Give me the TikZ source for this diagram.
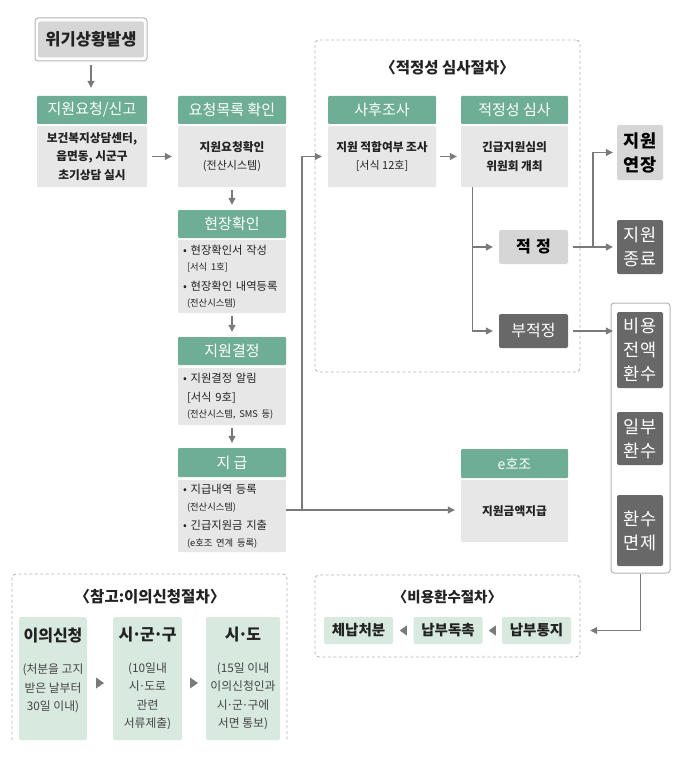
\documentclass[tikz,border=0pt]{standalone}
\usepackage{fontspec}
\setmainfont{Noto Sans CJK KR}
\usetikzlibrary{arrows.meta,calc}
\definecolor{hdg}{HTML}{6FAE96}
\definecolor{bdg}{HTML}{E7E7E7}
\definecolor{dkg}{HTML}{686868}
\definecolor{ltg}{HTML}{D6D6D6}
\definecolor{mint}{HTML}{D8E9E0}
\definecolor{frg}{HTML}{B4B4B4}
\definecolor{lng}{HTML}{7A7A7A}
\definecolor{tinta}{HTML}{222222}
\definecolor{gris}{HTML}{444444}
\newcommand\fs[2]{\fontsize{#1}{#2}\selectfont}
\newcommand\md{\kern-.09em·\kern-.09em}

\begin{document}
\begin{tikzpicture}[x=1pt,y=-1pt,font=\fs{11}{18},text=tinta,
 hd/.style={fill=hdg,text=white,minimum width=108,minimum height=28,inner sep=0,rounded corners=1pt,font=\fs{15}{16}},
 bd/.style={fill=bdg,minimum width=108,inner sep=0,align=center,rounded corners=1pt,font=\fs{11.7}{18.5}\bfseries},
 lst/.style={bd,align=left,text width=98,font=\fs{11.3}{16.5}},
 dk/.style={fill=dkg,text=white,minimum width=46,inner sep=0,rounded corners=2pt,align=center,font=\fs{17.5}{24}},
 lt/.style={dk,fill=ltg,text=black,font=\fs{17.5}{24}\bfseries},
 gb/.style={fill=mint,inner sep=0,rounded corners=2pt,align=center},
 frm/.style={draw=frg,dash pattern=on 3pt off 2.5pt,line width=0.9pt,rounded corners=4pt},
 ln/.style={draw=lng,line width=1.1pt},
 arr/.style={ln,-{Triangle[length=7pt,width=7pt]}},
 ttl/.style={font=\fs{15.5}{16}\bfseries},
 tri/.style={fill=lng}]

\useasboundingbox (0,0) rectangle (691,757);

\node[draw=frg,rounded corners=3pt,line width=1pt,fill=white,minimum width=112,minimum height=43] (wkf) at (91,39.5) {};
\node[fill=ltg,rounded corners=2pt,minimum width=106,minimum height=36,font=\fs{16.5}{18}\bfseries] (wk) at (91,39.5) {위기상황발생};

\node[hd,minimum width=110] (hdA) at (92,110) {지원요청/신고};
\node[bd,minimum width=110,minimum height=61] (bdA) at (92,156.5) {보건복지상담센터,\\읍면동, 시군구\\초기상담 실시};

\node[hd] (hdB) at (232,110) {요청목록 확인};
\node[bd,minimum height=61] (bdB) at (232,156.5) {지원요청확인\\{\mdseries\fs{11}{18.5}(전산시스템)}};
\node[hd] (hd2) at (232,224) {현장확인};
\node[lst,minimum height=73] (bd2) at (232,276.5) {• 현장확인서 작성\\\hspace*{4pt}{\fs{9.3}{16}[서식 1호]}\\[3pt]• 현장확인 내역등록\\\hspace*{4pt}{\fs{9.3}{16}(전산시스템)}};
\node[hd] (hd3) at (232,351) {지원결정};
\node[lst,minimum height=57] (bd3) at (232,396.5) {• 지원결정 알림\\[2pt]\hspace*{4pt}[서식 9호]\\\hspace*{4pt}{\fs{9.3}{16}(전산시스템, SMS 등)}};
\node[hd,minimum height=29] (hd4) at (232,462.5) {지 급};
\node[lst,minimum height=72] (bd4) at (232,516) {• 지급내역 등록\\\hspace*{4pt}{\fs{9.3}{16}(전산시스템)}\\[3pt]• 긴급지원금 지출\\\hspace*{4pt}{\fs{9.3}{16}(e호조 연계 등록)}};

\node[frm,minimum width=265,minimum height=332] (fA) at (447.5,206) {};
\node[ttl] (tA) at (447.5,68) {〈적정성 심사절차〉};
\node[hd] (hdC) at (382,110) {사후조사};
\node[bd,minimum height=61] (bdC) at (382,156.5) {지원 적합여부 조사\\{\mdseries\fs{11}{18.5}\mbox{[서식 12호]}}};
\node[hd,minimum width=107] (hdD) at (514.5,110) {적정성 심사};
\node[bd,minimum width=107,minimum height=61] (bdD) at (514.5,156.5) {긴급지원심의\\위원회 개최};
\node[lt,minimum width=69,minimum height=34,font=\fs{16}{18}\bfseries] (jj) at (533.5,247) {적\,\,정};
\node[dk,minimum width=69,minimum height=34,font=\fs{16}{18}] (bj) at (533.5,331) {부적정};

\node[lt,minimum height=55] (jy) at (640,152.5) {지원\\연장};
\node[dk,minimum height=54] (jr) at (640,247) {지원\\종료};
\node[draw=frg,rounded corners=3pt,line width=1pt,minimum width=59,minimum height=270] (hw) at (640.5,438) {};
\node[dk,minimum height=76] (h1) at (640,350) {비용\\전액\\환수};
\node[dk,minimum height=53] (h2) at (640,438.5) {일부\\환수};
\node[dk,minimum height=71] (h3) at (640,530.5) {환수\\면제};

\node[hd,minimum width=107,minimum height=29,font=\fs{14}{16}] (hdE) at (514.5,463.5) {e호조};
\node[bd,minimum width=107,minimum height=62] (bdE) at (514.5,511) {지원금액지급};

\node[frm,minimum width=265,minimum height=82] (fB) at (447.5,616) {};
\node[ttl,font=\fs{14.5}{16}\bfseries] (tB) at (447.5,597) {〈비용환수절차〉};
\node[gb,minimum width=69,minimum height=27,font=\fs{14.5}{16}\bfseries] (nb1) at (358.5,630.5) {체납처분};
\node[gb,minimum width=69,minimum height=27,font=\fs{14.5}{16}\bfseries] (nb2) at (448,630.5) {납부독촉};
\node[gb,minimum width=69,minimum height=27,font=\fs{14.5}{16}\bfseries] (nb3) at (536.5,630.5) {납부통지};
\fill[tri] ($(nb1.east)!0.5!(nb2.west)+(3.5,-5)$) -- ++(-7,5) -- ++(7,5) -- cycle;
\fill[tri] ($(nb2.east)!0.5!(nb3.west)+(3.5,-5)$) -- ++(-7,5) -- ++(7,5) -- cycle;

\draw[frm] (12,740) -- (12,574) -- (287,574) -- (287,740);
\node[ttl] (tC) at (150,597) {〈참고:이의신청절차〉};
\node[gb,minimum width=68,minimum height=123,text=gris,font=\fs{11.8}{18.5}] (ys1) at (53,678.5) {{\color{tinta}\fs{16}{18.5}\bfseries 이의신청}\\[13.5pt](처분을 고지\\받은 날부터\\30일 이내)\\~};
\node[gb,minimum width=69,minimum height=123,text=gris,font=\fs{11.8}{18.5}] (ys2) at (147.5,678.5) {{\color{tinta}\fs{16}{18.5}\bfseries 시\md 군\md 구}\\[13.5pt](10일내\\시\md 도로\\관련\\서류제출)};
\node[gb,minimum width=74,minimum height=123,text=gris,font=\fs{11.8}{18.5}] (ys3) at (243,678.5) {{\color{tinta}\fs{16}{18.5}\bfseries 시\md 도}\\[13.5pt](15일 이내\\이의신청인과\\시\md 군\md 구에\\서면 통보)};
\fill[tri] ($(ys1.east)!0.5!(ys2.west)+(-4,-1)$) -- ++(8,5.5) -- ++(-8,5.5) -- cycle;
\fill[tri] ($(ys2.east)!0.5!(ys3.west)+(-4,-1)$) -- ++(8,5.5) -- ++(-8,5.5) -- cycle;

\draw[arr,shorten <=4,shorten >=8] (wkf.south) -- (wkf.south |- hdA.north);
\draw[arr,shorten <=5,shorten >=6] (bdA) -- (bdB);
\draw[arr,shorten <=3,shorten >=5] (bdB) -- (hd2);
\draw[arr,shorten <=3,shorten >=5] (bd2) -- (hd3);
\draw[arr,shorten <=3,shorten >=5] (bd3) -- (hd4);
\coordinate (jn) at (302,510);
\draw[arr,shorten >=6] (bd4.east |- jn) -- (bdE.west |- jn);
\draw[arr,shorten >=6] (jn) |- (bdC.west);
\draw[arr,shorten <=4,shorten >=4] (bdC) -- (bdD);
\coordinate (br) at ($(bdD.south west)+(12,0)$);
\draw[arr,shorten >=6] (br) |- (bj);
\draw[arr,shorten >=6] (br |- jj.west) -- (jj.west);
\coordinate (sp) at (593,247);
\draw[ln,shorten <=5] (jj.east) -- (sp);
\draw[arr,shorten >=4] (sp) -- (jr);
\draw[arr,shorten >=4] (sp) |- (jy);
\draw[arr,shorten <=5,shorten >=4] (bj.east) -- (bj.east -| h1.west);
\draw[arr,shorten >=19] (hw.south) |- (nb3.east);

\end{tikzpicture}
\end{document}
